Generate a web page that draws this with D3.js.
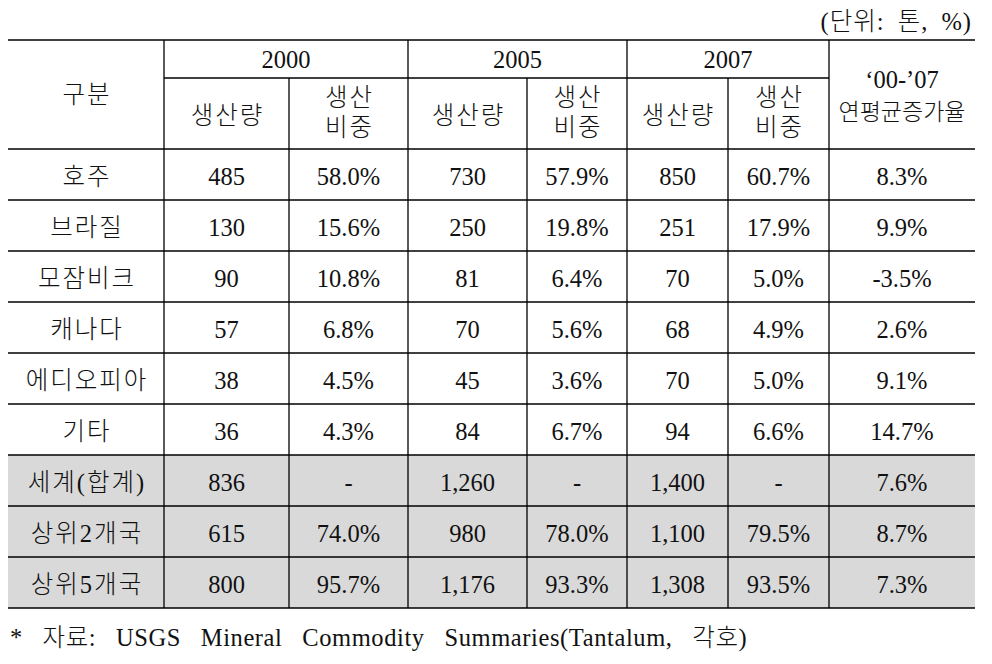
<!DOCTYPE html>
<html><head><meta charset="utf-8">
<script src="https://cdn.jsdelivr.net/npm/d3@7"></script>
<style>body{margin:0;background:#fff}</style>
</head><body>
<svg id="c" width="992" height="664"></svg>
<script>
const unitLabel = "(단위: 톤, %)";
const footnote = "* 자료: USGS Mineral Commodity Summaries(Tantalum, 각호)";
const years = ["2000", "2005", "2007"];
const subHeaders = ["생산량", ["생산", "비중"]];
const firstHeader = "구분";
const growthHeader = ["‘00-’07", "연평균증가율"];
const rowLabels = ["호주", "브라질", "모잠비크", "캐나다", "에디오피아", "기타", "세계(합계)", "상위2개국", "상위5개국"];
const prod2000 = ["485", "130", "90", "57", "38", "36", "836", "615", "800"];
const share2000 = ["58.0%", "15.6%", "10.8%", "6.8%", "4.5%", "4.3%", "-", "74.0%", "95.7%"];
const prod2005 = ["730", "250", "81", "70", "45", "84", "1,260", "980", "1,176"];
const share2005 = ["57.9%", "19.8%", "6.4%", "5.6%", "3.6%", "6.7%", "-", "78.0%", "93.3%"];
const prod2007 = ["850", "251", "70", "68", "70", "94", "1,400", "1,100", "1,308"];
const share2007 = ["60.7%", "17.9%", "5.0%", "4.9%", "5.0%", "6.6%", "-", "79.5%", "93.5%"];
const growth = ["8.3%", "9.9%", "-3.5%", "2.6%", "9.1%", "14.7%", "7.6%", "8.7%", "7.3%"];
const shadedRows = [6, 7, 8];

const svg = d3.select("#c");
const font = "'Liberation Serif','Noto Sans CJK KR',serif";
const fs = 24.5;
const edges = [8, 164, 289, 408, 527, 627, 728, 829, 975];
const colX = d3.scaleOrdinal().domain(d3.range(9)).range(edges);
const cx = i => (colX(i) + colX(i + 1)) / 2;
const yTop = 40, yMid = 78, yHead = 149, rowH = 51;
const y = d3.scaleBand().domain(d3.range(rowLabels.length)).range([yHead, yHead + rowH * rowLabels.length]).padding(0);
const yBot = yHead + rowH * rowLabels.length;

svg.selectAll("rect.shade").data(shadedRows).join("rect")
  .attr("class", "shade")
  .attr("x", colX(0)).attr("width", colX(8) - colX(0))
  .attr("y", d => y(d)).attr("height", y.bandwidth())
  .attr("fill", "#d9d9d9");

const hasKo = t => /[가-힣]/.test(t);
const txt = (x, yy, t, anchor = "middle", extra = {}) => {
  const ls = extra.ls !== undefined ? extra.ls : (hasKo(t) ? 2 : 0);
  const s = svg.append("text")
    .attr("x", anchor === "middle" ? x + ls / 2 : x).attr("y", yy).attr("text-anchor", anchor)
    .attr("font-family", font).attr("font-size", extra.fs || fs)
    .attr("font-weight", 300)
    .attr("letter-spacing", ls)
    .attr("fill", "#111").text(t);
  if (extra.ws) s.attr("word-spacing", extra.ws);
  return s;
};

txt(972, 30, unitLabel, "end", {ws: 6, ls: 1});
txt(cx(0), 103, firstHeader);
years.forEach((yr, i) => {
  const mid = (colX(1 + 2 * i) + colX(3 + 2 * i)) / 2;
  txt(mid, 68, yr);
  txt(cx(1 + 2 * i), 124, subHeaders[0]);
  txt(cx(2 + 2 * i), 106, subHeaders[1][0]);
  txt(cx(2 + 2 * i), 136, subHeaders[1][1]);
});
txt(cx(7), 88, growthHeader[0]);
txt(cx(7), 120, growthHeader[1], "middle", {ls: 0, fs: 23});

const cols = [rowLabels, prod2000, share2000, prod2005, share2005, prod2007, share2007, growth];
cols.forEach((col, ci) => {
  col.forEach((v, ri) => txt(cx(ci), y(ri) + y.bandwidth() / 2 + 10, v));
});

const line = (x1, y1, x2, y2, w = 1.3) => svg.append("line")
  .attr("x1", x1).attr("y1", y1).attr("x2", x2).attr("y2", y2)
  .attr("stroke", "#000").attr("stroke-width", w);
line(colX(0), yTop, colX(8), yTop, 1.6);
line(colX(1), yMid, colX(7), yMid);
d3.range(rowLabels.length).forEach(r => line(colX(0), y(r), colX(8), y(r)));
line(colX(0), yBot, colX(8), yBot, 1.6);
[1, 3, 5, 7].forEach(c => line(colX(c), yTop, colX(c), yBot));
[2, 4, 6].forEach(c => line(colX(c), yMid, colX(c), yBot));

txt(10, 646, footnote, "start", {ws: 13, ls: 0.6});
</script>
</body></html>
